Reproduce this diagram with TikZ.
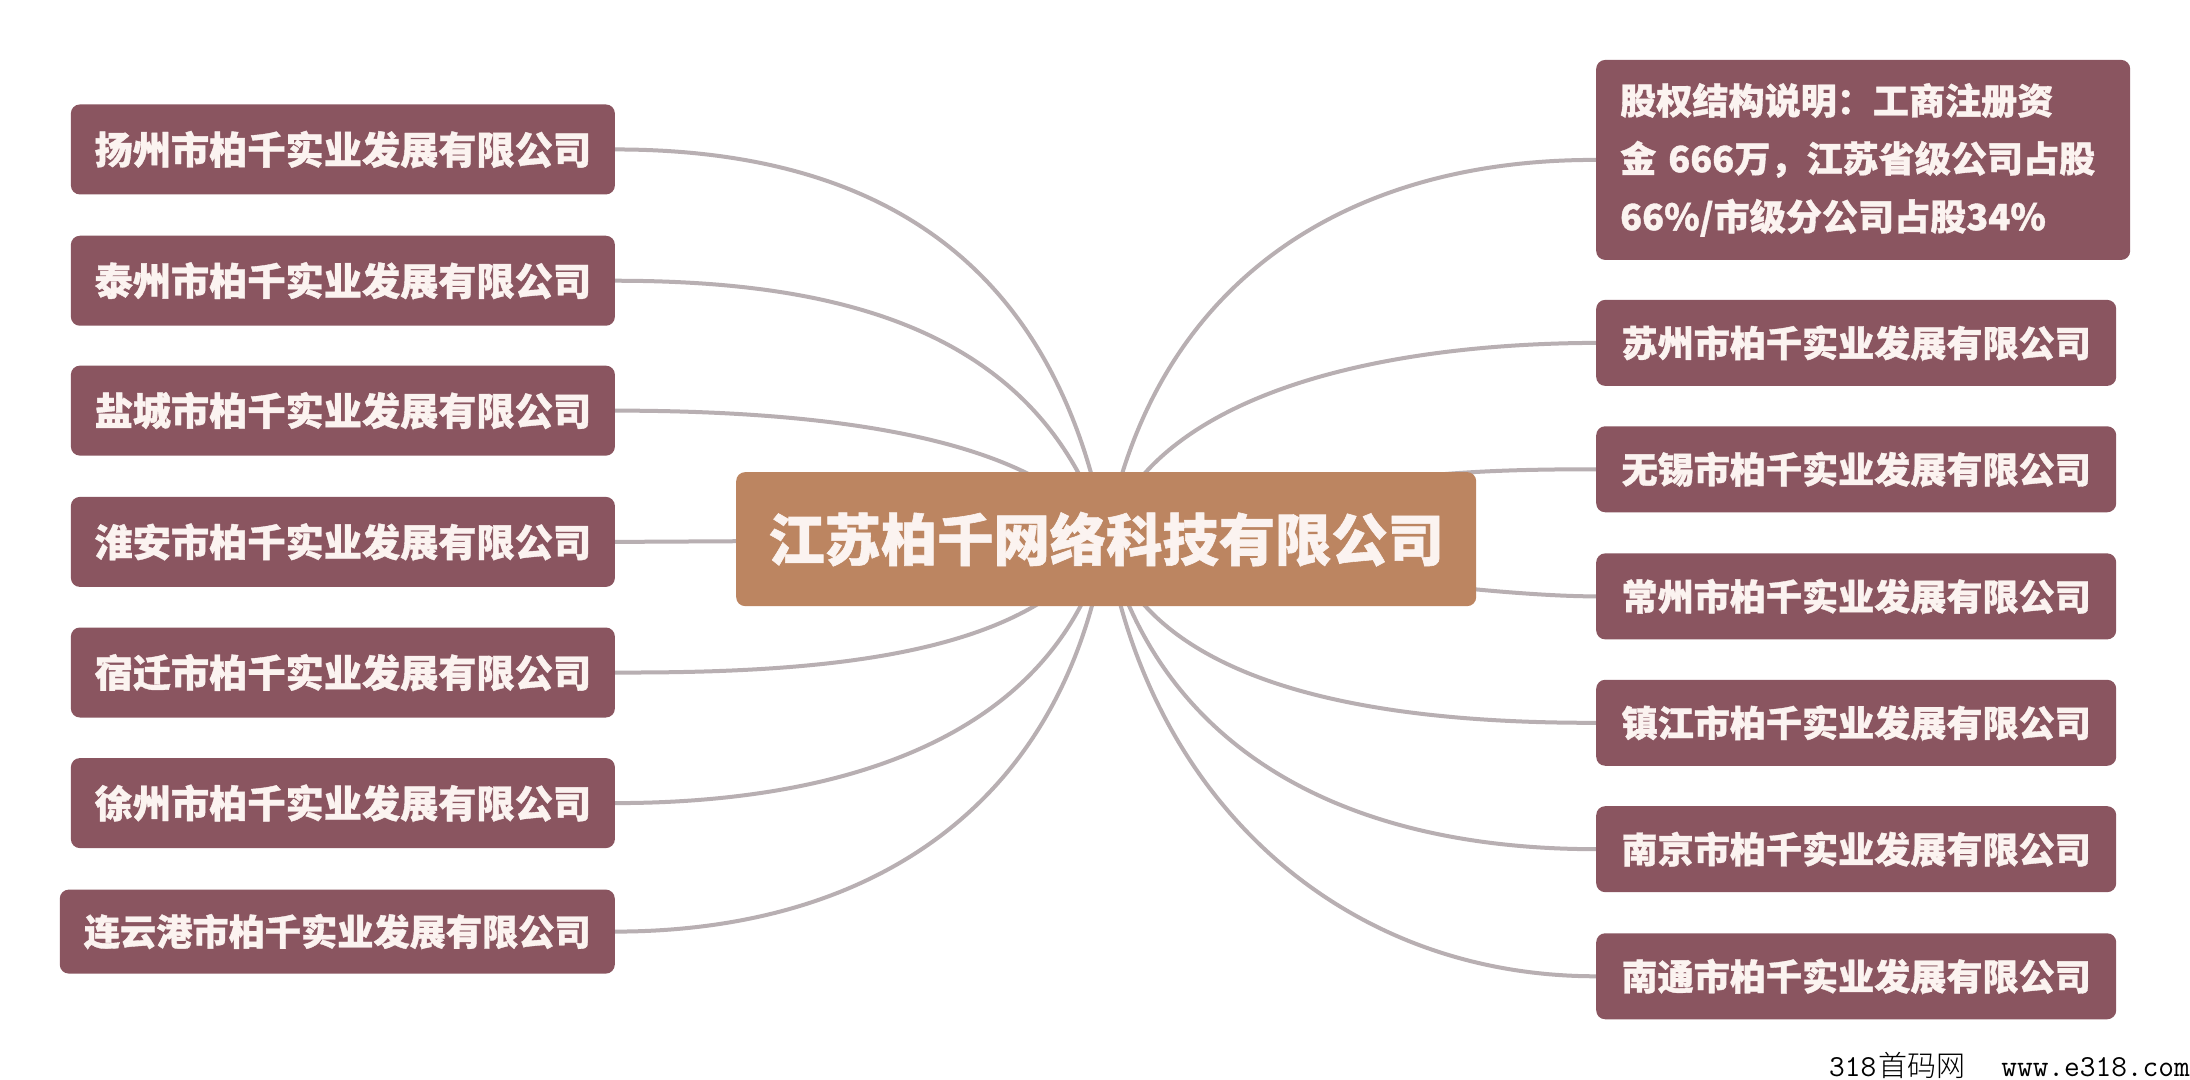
\documentclass[tikz,border=0pt]{standalone}
\usepackage{fontspec}
\setmainfont{Noto Sans CJK SC}
\newfontfamily\cjk{Noto Sans CJK SC}
\newfontfamily\cjkh{Noto Sans CJK SC Black}[FakeBold=1]
\newfontfamily\cjkl{Noto Sans CJK SC Light}
\usetikzlibrary{backgrounds}
\definecolor{boxc}{HTML}{8A5560}
\definecolor{hubc}{HTML}{BC8561}
\definecolor{linec}{HTML}{B8AFB2}
\definecolor{txtc}{HTML}{FBF3F0}
\tikzset{
  x=1.3967pt,y=-1.3967pt,
  basebox/.style={fill=boxc,rounded corners=9pt,text=txtc,inner sep=0pt,font=\cjkh\fontsize{38.2}{44}\selectfont,anchor=center},
  leftbox/.style={basebox,minimum width=544pt,minimum height=90pt},
  leftwide/.style={basebox,minimum width=555pt,minimum height=84pt,font=\cjkh\fontsize{36.2}{44}\selectfont},
  rightbox/.style={basebox,minimum width=520pt,minimum height=86pt,font=\cjkh\fontsize{36.1}{44}\selectfont},
  notebox/.style={basebox,minimum width=534pt,minimum height=200pt,font=\cjkh\fontsize{36.1}{58}\selectfont,align=left,text width=486pt},
  hubbox/.style={fill=hubc,rounded corners=9pt,text=txtc,minimum width=740pt,minimum height=134pt,inner sep=0pt,font=\cjkh\fontsize{56.3}{64}\selectfont},
  link/.style={draw=linec,line width=4pt},
  mark text/.style={inner sep=0pt,anchor=east,text=black}
}
\begin{document}
\begin{tikzpicture}
\useasboundingbox (0,0) rectangle (1568,773.25);
\node[hubbox] (c) at (792,386) {\raisebox{-4pt}{江苏柏千网络科技有限公司}};
\node[leftbox] (l1) at (245.5,107) {\raisebox{-4pt}{扬州市柏千实业发展有限公司}};
\node[leftbox] (l2) at (245.5,201) {\raisebox{-4pt}{泰州市柏千实业发展有限公司}};
\node[leftbox] (l3) at (245.5,294) {\raisebox{-4pt}{盐城市柏千实业发展有限公司}};
\node[leftbox] (l4) at (245.5,388) {\raisebox{-4pt}{淮安市柏千实业发展有限公司}};
\node[leftbox] (l5) at (245.5,481.5) {\raisebox{-4pt}{宿迁市柏千实业发展有限公司}};
\node[leftbox] (l6) at (245.5,575) {\raisebox{-4pt}{徐州市柏千实业发展有限公司}};
\node[leftwide] (l7) at (241.5,667) {\raisebox{-4pt}{连云港市柏千实业发展有限公司}};
\node[notebox] (r0) at (1334,114.5) {\raisebox{-4pt}{股权结构说明：工商注册资}\\\raisebox{-4pt}{金 666万，江苏省级公司占股}\\\raisebox{-4pt}{66\%/市级分公司占股34\%}};
\node[rightbox] (r1) at (1329,245.5) {\raisebox{-4pt}{苏州市柏千实业发展有限公司}};
\node[rightbox] (r2) at (1329,336) {\raisebox{-4pt}{无锡市柏千实业发展有限公司}};
\node[rightbox] (r3) at (1329,427) {\raisebox{-4pt}{常州市柏千实业发展有限公司}};
\node[rightbox] (r4) at (1329,517.5) {\raisebox{-4pt}{镇江市柏千实业发展有限公司}};
\node[rightbox] (r5) at (1329,608) {\raisebox{-4pt}{南京市柏千实业发展有限公司}};
\node[rightbox] (r6) at (1329,699) {\raisebox{-4pt}{南通市柏千实业发展有限公司}};
\node[mark text] (w) at (1568,763) {{\ttfamily\fontsize{30.5}{34}\selectfont 318}\hspace{2pt}{\cjkl\fontsize{29}{34}\selectfont 首码网}\hspace{36pt}{\ttfamily\fontsize{30.5}{34}\selectfont www.e318.com}};
\begin{scope}[on background layer]
\fill[white] (0,0) rectangle (1568,773.25);
\draw[link] (l1.east) .. controls (620,107) and (755,180) .. (c.center);
\draw[link] (l2.east) .. controls (600,201) and (745,235) .. (c.center);
\draw[link] (l3.east) .. controls (585,294) and (745,311) .. (c.center);
\draw[link] (l4.east) -- (c.center);
\draw[link] (l5.east) .. controls (590,482) and (740,470) .. (c.center);
\draw[link] (l6.east) .. controls (600,575) and (755,530) .. (c.center);
\draw[link] (l7.east) .. controls (620,667) and (762,580) .. (c.center);
\draw[link] (r0.west) .. controls (960,114) and (825,205) .. (c.center);
\draw[link] (r1.west) .. controls (980,246) and (825,285) .. (c.center);
\draw[link] (r2.west) .. controls (1040,336) and (960,340) .. (c.center);
\draw[link] (r3.west) .. controls (1100,427) and (1000,420) .. (c.center);
\draw[link] (r4.west) .. controls (980,518) and (825,490) .. (c.center);
\draw[link] (r5.west) .. controls (960,608) and (830,535) .. (c.center);
\draw[link] (r6.west) .. controls (960,699) and (822,572) .. (c.center);
\end{scope}
\end{tikzpicture}
\end{document}
